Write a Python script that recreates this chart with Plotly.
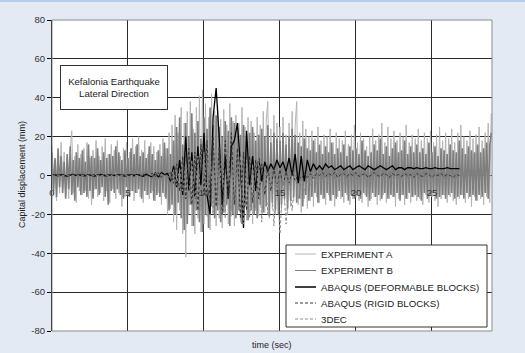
import numpy as np
import plotly.graph_objects as go

# ---------------- data ----------------
# experiments sampled every 0.1 s from 0 to 28.9 s
t_exp = np.round(np.arange(0, 290) * 0.1, 1)

exp_a = [
    15, -10, 8, -13, 11, -9, 17, -7, 12, -11,
    9, -12, 13, 23, -9, 10, -14, 16, -8, 11,
    -10, 14, -8, 17, -12, 9, -15, 13, -7, 18,
    -11, 10, -9, 15, -13, 19, -8, 11, -14, 16,
    -7, 13, -12, 18, -9, 10, -16, 14, -11, 17,
    -10, 12, -8, 19, -13, 15, -9, 20, -11, 13,
    -14, 18, -10, 11, -12, 17, -8, 15, -13, 12,
    -9, 16, -15, 19, -11, 14, -20, 22, -17, 26,
    -24, 31, -28, 22, -18, 35, -30, 27, -42, 33,
    -20, 38, -26, 24, -30, 35, -22, 41, -29, 44,
    -25, 37, -21, 30, -28, 42, -19, 33, -26, 36,
    -22, 29, -27, 34, -18, 26, -25, 37, -21, 28,
    -26, 31, -19, 27, -24, 35, -17, 25, -23, 30,
    -20, 28, -25, 22, -16, 30, -21, 26, -18, 33,
    -19, 29, 38, -22, 24, -17, 31, -20, 27, -15,
    25, -18, 30, -14, 21, -20, 27, -16, 33, -13,
    26, 38, -15, 22, -19, 28, -12, 24, -17, 20,
    -13, 23, -16, 19, -11, 25, -14, 18, -12, 21,
    -15, 20, -10, 24, -13, 17, -16, 22, -11, 19,
    -12, 18, -14, 23, -10, 16, -15, 21, -12, 26,
    -11, 17, -13, 22, -14, 19, -10, 15, -16, 20,
    -12, 24, -11, 18, -15, 21, -13, 27, -10, 17,
    -14, 25, -12, 19, -11, 23, -16, 18, -12, 22,
    -10, 20, -15, 26, -12, 17, -14, 21, -11, 19,
    -13, 24, -12, 18, -15, 22, -10, 19, -14, 23,
    -11, 17, -13, 21, -16, 25, -12, 18, -10, 22,
    -14, 19, -11, 24, -13, 17, -15, 22, -12, 26,
    -10, 20, -14, 18, -12, 23, -16, 19, -11, 21,
    -13, 25, -12, 18, -15, 22, -11, 27, -14, 32,
]

exp_b = [
    12, -8, 9, -11, 14, -6, 10, -9, 7, -12,
    11, -7, 15, -10, 8, -13, 12, -6, 9, -10,
    13, -9, 7, -11, 16, -8, 10, -12, 9, -7,
    14, -10, 8, -6, 12, -11, 9, -15, 11, -8,
    10, -9, 15, -7, 12, -10, 8, -12, 13, -6,
    9, -11, 14, -8, 11, -9, 16, -7, 10, -12,
    12, -8, 9, -10, 15, -9, 11, -13, 8, -10,
    13, -11, 10, -9, 17, -12, 14, -18, 11, -15,
    18, -20, 25, -14, 30, -22, 16, -28, 27, -25,
    20, -15, 32, -26, 22, -18, 28, -24, 19, -29,
    30, -20, 24, -27, 35, -16, 26, -22, 31, -18,
    25, -24, 20, -19, 28, -15, 23, -26, 30, -20,
    27, -22, 24, -18, 21, -25, 26, -16, 20, -23,
    22, -18, 25, -20, 18, -22, 21, -15, 24, -19,
    20, -16, 26, -21, 17, -14, 22, -18, 19, -20,
    18, -15, 22, -12, 16, -17, 20, -13, 24, -11,
    21, -14, 17, -12, 15, -16, 19, -10, 14, -13,
    13, -11, 18, -9, 12, -14, 16, -10, 11, -12,
    15, -9, 12, -13, 17, -10, 11, -12, 14, -8,
    12, -11, 16, -9, 10, -13, 15, -10, 13, -12,
    14, -10, 11, -12, 18, -9, 13, -11, 10, -13,
    12, -9, 16, -11, 13, -10, 19, -12, 11, -9,
    15, -12, 10, -10, 14, -11, 17, -9, 12, -13,
    13, -10, 18, -12, 11, -9, 15, -11, 12, -10,
    16, -11, 12, -13, 14, -9, 11, -12, 17, -10,
    12, -9, 15, -12, 10, -11, 14, -10, 13, -12,
    11, -10, 16, -9, 13, -12, 12, -11, 18, -10,
    14, -12, 11, -9, 15, -11, 13, -10, 12, -13,
    16, -10, 12, -11, 14, -9, 17, -12, 15, 22,
]

# numerical models sampled every 0.2 s from 0 to 28.8 s
t_mod = np.round(np.arange(0, 145) * 0.2, 1)

abaqus_def = [
    0, 0.3, -0.2, 0.4, 0, -0.3, 0.2, 0.5, -0.1, 0.3,
    0, -0.2, 0.4, 0.1, -0.3, 0.2, 0.5, 0, -0.2, 0.3,
    0.1, -0.1, 0.4, 0, -0.3, 0.2, 0.3, -0.2, 0.5, 0.1,
    -0.4, 0.6, 0, -0.8, 1.2, -1, 1.5, 0.5,
    1, -3, 5, -6, 8, -10, 20, -8, 12, -12,
    15, -5, 22, -10, -20, 30, 45, 20, -15, 10,
    -12, 15, 18, 27, 5, -27, 23, -5, 10, -8,
    9, -3, 7, 2, 6, 3, 8, 4, 7, 2,
    9, 0, 11, -4, 10, -3, 8, 2, 6, 3,
    5, 3, 6, 4, 5, 3, 4, 5, 3, 4,
    5, 3, 4, 5, 4, 3, 5, 4, 3, 4,
    5, 4, 3, 4, 5, 3, 4, 4, 3, 4,
    4, 3.5, 4, 3.5, 3.5, 4, 3.5, 3.5, 4, 3.5,
    3.5, 3.5, 4, 3.5, 3.5, 3.5, 3.5,
]

abaqus_rigid = [
    0.5, 0.3, 0.6, 0.4, 0.5, 0.2, 0.6, 0.5, 0.3, 0.5,
    0.6, 0.4, 0.5, 0.3, 0.6, 0.5, 0.4, 0.6, 0.3, 0.5,
    0.4, 0.6, 0.5, 0.3, 0.5, 0.6, 0.4, 0.5, 0.3, 0.6,
    0.5, 0.8, 0.2, 1.2, -0.5, 1.5, -1, 0.5,
    0, 2, -4, 6, -8, 10, -12, 14, -15, 12,
    -18, 16, -10, 18, -14, 20, -16, 15, -20, 18,
    -12, 22, -15, 14, -22, 12, -18, 10, -14, 8,
    -12, 6, -10, 5, -8, 4, -6, 3, -5, 2,
    -4, 2, -3, 1, -2, 1.5, -1, 1, -1.5, 1,
    0, 1.5, -0.5, 1, 0, 1.5, -1, 0.5, 1, -0.5,
    1, 0, 1.5, -0.5, 0.5, 1, -1, 0.5, 1.5, 0,
    -0.5, 1, 0.5, -1, 1, 0, 0.5, -0.5, 1, 0,
    0.5, -1, 1, 0, -0.5, 1, 0.5, -1, 0.5, 0,
    1, -0.5, 0.5, 0, -1, 0.5, 0,
]

dec3 = [
    0, -0.3, 0.2, -0.2, 0, 0.3, -0.2, 0.1, -0.3, 0.2,
    0, -0.2, 0.1, 0.3, -0.1, 0, -0.3, 0.2, 0, -0.2,
    0.3, 0, -0.2, 0.1, 0.2, -0.3, 0, 0.2, -0.1, 0,
    0.4, -0.6, 0.8, -1, 1.2, -1.5, 1, -0.5,
    0, -2, 3, -5, 4, -8, 6, -12, 8, -15,
    10, -18, 12, -10, 16, -20, 14, -15, 18, -22,
    12, -18, 15, -20, 10, -25, 8, -22, 6, -18,
    9, -24, 5, -20, 4, -26, 2, -30, 0, -25,
    -2, -18, 1, -12, -1, -8, -3, -5, -1, -4,
    -2, -3, -1, -4, -2, -3, -1, -2, -4, -2,
    -3, -1, -4, -2, -2, -3, -1, -4, -2, -3,
    -2, -1, -3, -2, -4, -1, -3, -2, -2, -3,
    -1, -3, -2, -4, -2, -1, -3, -2, -3, -1,
    -2, -3, -2, -1, -3, -2, -2,
]

series_names = [
    "EXPERIMENT A",
    "EXPERIMENT B",
    "ABAQUS (DEFORMABLE BLOCKS)",
    "ABAQUS (RIGID BLOCKS)",
    "3DEC",
]

y_ticks = [-80, -60, -40, -20, 0, 20, 40, 60, 80]
y_ticktext = ["-80", "-60", "-40", "-20", "0", "20", "40", "60", "80"]
x_ticks = [0, 5, 10, 15, 20, 25]
x_ticktext = ["0", "5", "10", "15", "20", "25"]

# ---------------- styles ----------------
FONT = "Liberation Sans, Arial, sans-serif"
styles = [
    dict(color="#B4B4B4", width=1, dash="solid"),
    dict(color="#7E7E7E", width=1.6, dash="solid"),
    dict(color="#000000", width=1.3, dash="solid"),
    dict(color="#333333", width=1, dash="3px,2px"),
    dict(color="#8C8C8C", width=1, dash="3px,2px"),
]
legend_styles = [
    dict(color="#B4B4B4", width=1, dash="solid"),
    dict(color="#808080", width=1, dash="solid"),
    dict(color="#000000", width=1.5, dash="solid"),
    dict(color="#333333", width=1, dash="3px,2px"),
    dict(color="#8C8C8C", width=1, dash="3px,2px"),
]

# plot area in pixels: x 52..492, y 20..331
PL, PR, PT, PB = 52, 492, 20, 331
def px(xp):
    return (xp - PL) / (PR - PL)
def py(yp):
    return (PB - yp) / (PB - PT)

fig = go.Figure()
xs = [t_exp, t_exp, t_mod, t_mod, t_mod]
ys = [exp_a, exp_b, abaqus_def, abaqus_rigid, dec3]
for x, y, name, st in zip(xs, ys, series_names, styles):
    fig.add_trace(go.Scatter(x=x, y=y, mode="lines", name=name, line=st,
                             showlegend=False, hoverinfo="skip"))

fig.update_layout(
    width=525, height=353,
    margin=dict(l=PL, r=525 - PR, t=PT, b=353 - PB, autoexpand=False),
    paper_bgcolor="#E4EAF4",
    plot_bgcolor="#FFFFFF",
    font=dict(family=FONT, size=9, color="#222222"),
    showlegend=False,
    xaxis=dict(
        range=[0, 28.95], automargin=False,
        tickvals=x_ticks, ticktext=x_ticktext,
        showgrid=True, gridcolor="#2A2A2A", gridwidth=1,
        zeroline=False, showline=False,
        anchor="free", position=0.5, side="bottom",
        ticks="", ticklabelstandoff=10,
        tickfont=dict(family=FONT, size=9.5, color="#333333"),
    ),
    yaxis=dict(
        range=[-80, 80], automargin=False,
        tickvals=y_ticks, ticktext=y_ticktext,
        showgrid=True, gridcolor="#2A2A2A", gridwidth=1,
        zeroline=False, showline=True, linecolor="#000000", linewidth=1,
        ticks="outside", ticklen=4, tickcolor="#000000",
        tickfont=dict(family=FONT, size=9.5, color="#333333"),
    ),
)

# plot border
fig.add_shape(type="rect", xref="x domain", yref="y domain", x0=0, x1=1, y0=0, y1=1,
              line=dict(color="#8A8A8A", width=1), layer="above")
# thin blue line at the very top of the figure
fig.add_shape(type="line", xref="paper", yref="paper", x0=-0.2, x1=1.2,
              y0=py(1), y1=py(1), line=dict(color="#A9C3E4", width=1.5))

# axis titles
fig.add_annotation(text="time (sec)", xref="paper", yref="paper", x=px(272), y=py(345),
                   xanchor="center", yanchor="middle", showarrow=False,
                   font=dict(family=FONT, size=9, color="#222222"))
fig.add_annotation(text="Capital displacement (mm)", xref="paper", yref="paper",
                   x=px(22), y=py(175), textangle=-90,
                   xanchor="center", yanchor="middle", showarrow=False,
                   font=dict(family=FONT, size=9, color="#222222"))

# info box
fig.add_annotation(text="Kefalonia Earthquake<br>Lateral Direction",
                   xref="paper", yref="paper", x=px(114), y=py(87.5),
                   xanchor="center", yanchor="middle", showarrow=False,
                   width=100, height=37, borderpad=3,
                   bgcolor="#FFFFFF", bordercolor="#333333", borderwidth=1,
                   font=dict(family=FONT, size=9.6, color="#222222"))

# legend box (drawn to match the original compact layout)
fig.add_shape(type="rect", xref="paper", yref="paper",
              x0=px(286), x1=px(487), y0=py(327), y1=py(245),
              fillcolor="#FFFFFF", line=dict(color="#333333", width=1), layer="above")
row_y = [254, 270.5, 287, 303, 319]
for name, st, ry in zip(series_names, legend_styles, row_y):
    fig.add_shape(type="line", xref="paper", yref="paper",
                  x0=px(295), x1=px(316), y0=py(ry), y1=py(ry),
                  line=st, layer="above")
    fig.add_annotation(text=name, xref="paper", yref="paper", x=px(319), y=py(ry),
                       xanchor="left", yanchor="middle", showarrow=False,
                       font=dict(family=FONT, size=9.7, color="#222222"))

fig.write_html("out.html", config={"displayModeBar": False},
               post_script="document.body.style.margin='0';document.body.style.padding='0';")
